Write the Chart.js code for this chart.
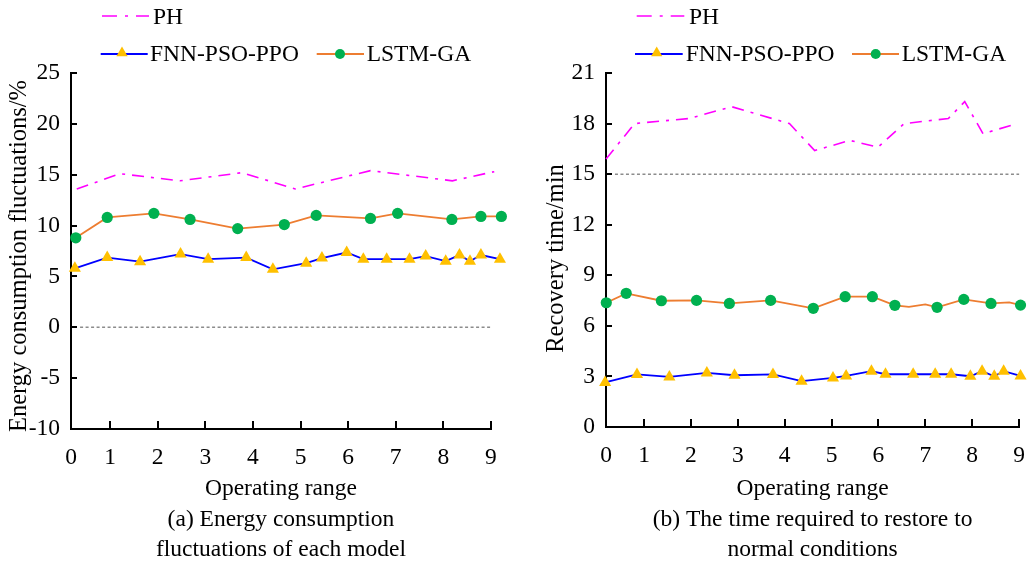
<!DOCTYPE html>
<html><head><meta charset="utf-8">
<script src="https://cdn.jsdelivr.net/npm/chart.js@4.4.1/dist/chart.umd.min.js"></script>
<style>
html,body{margin:0;padding:0;background:#fff;}
#wrap{position:relative;width:1032px;height:567px;overflow:hidden;background:#fff;}
canvas{position:absolute;top:0;}
#cA{left:0}
#cB{left:516px}
</style></head><body>
<div id="wrap"><canvas id="cA" width="516" height="567"></canvas><canvas id="cB" width="516" height="567"></canvas></div>
<script>
// ---------------- data ----------------
const xTickValues = [1, 2, 3, 4, 5, 6, 7, 8, 9];
const seriesNames = ['PH', 'FNN-PSO-PPO', 'LSTM-GA'];
const xTitle = 'Operating range';

// (a) Energy consumption fluctuations/%
const phA_x   = [0.30, 1.21, 2.47, 3.77, 4.89, 6.47, 8.19, 9.07];
const phA_y   = [13.6, 15.1, 14.4, 15.2, 13.6, 15.4, 14.4, 15.3];
const fnnA_x  = [0.26, 0.94, 1.63, 2.48, 3.06, 3.86, 4.42, 5.12, 5.45, 5.97, 6.32, 6.81, 7.29, 7.63, 8.05, 8.34, 8.56, 8.79, 9.19];
const fnnA_y  = [5.8, 6.85, 6.45, 7.2, 6.7, 6.85, 5.7, 6.3, 6.8, 7.35, 6.7, 6.7, 6.7, 7.0, 6.5, 7.1, 6.5, 7.1, 6.7];
const lstmA_x = [0.28, 0.94, 1.92, 2.68, 3.68, 4.66, 5.33, 6.47, 7.04, 8.18, 8.79, 9.22];
const lstmA_y = [8.8, 10.8, 11.2, 10.6, 9.7, 10.1, 11.0, 10.7, 11.2, 10.6, 10.9, 10.9];
const refA_x  = [0.37, 9];
const refA_y  = [0, 0];

// (b) Recovery time/min
const phB_x   = [0.19, 0.80, 1.96, 2.87, 4.10, 4.64, 5.39, 5.99, 6.55, 7.49, 7.84, 8.23, 8.96];
const phB_y   = [15.9, 18.0, 18.3, 19.0, 18.0, 16.4, 17.0, 16.6, 18.0, 18.3, 19.3, 17.4, 18.0];
const fnnB_x  = [0.17, 0.85, 1.54, 2.34, 2.93, 3.75, 4.36, 5.03, 5.31, 5.85, 6.15, 6.74, 7.21, 7.55, 7.96, 8.21, 8.47, 8.67, 9.03];
const fnnB_y  = [2.64, 3.12, 2.97, 3.21, 3.07, 3.12, 2.72, 2.91, 3.03, 3.31, 3.13, 3.13, 3.13, 3.13, 3.01, 3.31, 3.01, 3.31, 3.03];
const lstmB_x = [0.195, 0.62, 1.37, 2.12, 2.82, 3.70, 4.61, 5.29, 5.87, 6.35, 6.65, 7.00, 7.25, 7.82, 8.40, 8.79, 9.03];
const lstmB_y = [7.37, 7.93, 7.49, 7.51, 7.33, 7.51, 7.04, 7.73, 7.73, 7.22, 7.13, 7.27, 7.10, 7.57, 7.33, 7.39, 7.23];
const lstmB_marked = [1, 1, 1, 1, 1, 1, 1, 1, 1, 1, 0, 0, 1, 1, 1, 0, 1];
const refB_x  = [0.38, 9];
const refB_y  = [15, 15];

// ---------------- styles ----------------
const FONT = "'Liberation Serif', 'Times New Roman', serif";
const C_PH = '#FF00FF', C_FNN = '#0000FF', C_TRI = '#FFC000', C_LSTM = '#ED7D31', C_DOT = '#00B050', C_REF = '#8C8C8C';
const PH_DASH = [12, 7, 3, 7];
const TRI_R = 7, DOT_R = 5.6;

const pts = (xs, ys) => xs.map((x, i) => ({ x: x, y: ys[i] }));

const decor = {
  id: 'decor',
  beforeDatasetsDraw(chart) {
    const { ctx, chartArea: { left, bottom }, scales: { x } } = chart;
    ctx.save();
    ctx.strokeStyle = '#000'; ctx.lineWidth = 2; ctx.setLineDash([]);
    ctx.beginPath(); ctx.moveTo(left - 1, Math.round(bottom)); ctx.lineTo(Math.round(x.getPixelForValue(9)) + 1, Math.round(bottom)); ctx.stroke();
    ctx.restore();
  },
  afterDraw(chart, args, o) {
    const { ctx, chartArea: { left, bottom }, scales: { x, y } } = chart;
    ctx.save();
    ctx.strokeStyle = '#000'; ctx.lineWidth = 2; ctx.setLineDash([]);
    y.ticks.forEach(t => {
      const py = Math.round(y.getPixelForValue(t.value));
      ctx.beginPath(); ctx.moveTo(left, py); ctx.lineTo(left + 6, py); ctx.stroke();
    });
    x.ticks.forEach(t => {
      if (t.value < 0.5) return;
      const px = Math.round(x.getPixelForValue(t.value));
      ctx.beginPath(); ctx.moveTo(px, Math.round(bottom)); ctx.lineTo(px, Math.round(bottom) - 8); ctx.stroke();
    });
    // x title + caption (centred on the drawn axis)
    const cx = (left + x.getPixelForValue(9)) / 2;
    ctx.font = '23.5px ' + FONT; ctx.fillStyle = '#000'; ctx.textAlign = 'center'; ctx.textBaseline = 'alphabetic';
    [xTitle].concat(o.caption).forEach((s, i) => ctx.fillText(s, cx, 495 + i * 30.5));
    // legend
    const L = o.legend;
    ctx.textAlign = 'left';
    // PH
    ctx.strokeStyle = C_PH; ctx.lineWidth = 1.6; ctx.setLineDash([15, 8, 3, 8]);
    ctx.beginPath(); ctx.moveTo(L.ph[0], 16); ctx.lineTo(L.ph[1], 16); ctx.stroke();
    ctx.setLineDash([]);
    ctx.fillText(seriesNames[0], L.ph[2], 24);
    // FNN
    ctx.strokeStyle = C_FNN; ctx.lineWidth = 2;
    ctx.beginPath(); ctx.moveTo(L.fnn[0], 54); ctx.lineTo(L.fnn[1], 54); ctx.stroke();
    const tx = L.fnn[2], ty = 53, r = 6.5;
    ctx.fillStyle = C_TRI; ctx.beginPath();
    ctx.moveTo(tx, ty - r); ctx.lineTo(tx + r * 0.866, ty + r / 2); ctx.lineTo(tx - r * 0.866, ty + r / 2); ctx.closePath(); ctx.fill();
    ctx.fillStyle = '#000'; ctx.fillText(seriesNames[1], L.fnn[3], 61);
    // LSTM
    ctx.strokeStyle = C_LSTM; ctx.lineWidth = 2;
    ctx.beginPath(); ctx.moveTo(L.lstm[0], 54); ctx.lineTo(L.lstm[1], 54); ctx.stroke();
    ctx.fillStyle = C_DOT; ctx.beginPath(); ctx.arc(L.lstm[2], 54, 5, 0, Math.PI * 2); ctx.fill();
    ctx.fillStyle = '#000'; ctx.fillText(seriesNames[2], L.lstm[3], 61);
    // y title
    ctx.font = '24.5px ' + FONT;
    ctx.translate(o.yt[0], o.yt[1]); ctx.rotate(-Math.PI / 2);
    ctx.textAlign = 'center'; ctx.textBaseline = 'middle';
    ctx.fillText(o.yt[2], 0, 0);
    ctx.restore();
  }
};

function makeChart(id, d) {
  return new Chart(document.getElementById(id), {
    type: 'line',
    data: {
      datasets: [
        { label: seriesNames[1], data: pts(d.fnnX, d.fnnY), borderColor: C_FNN, borderWidth: 1.8,
          pointStyle: 'triangle', pointRadius: TRI_R, pointBackgroundColor: C_TRI, pointBorderColor: C_TRI, pointBorderWidth: 0, clip: false },
        { label: seriesNames[2], data: pts(d.lstmX, d.lstmY), borderColor: C_LSTM, borderWidth: 1.8,
          pointStyle: 'circle', pointRadius: d.lstmR, pointBackgroundColor: C_DOT, pointBorderColor: C_DOT, pointBorderWidth: 0, clip: false },
        { label: seriesNames[0], data: pts(d.phX, d.phY), borderColor: C_PH, borderWidth: 1.6, borderDash: PH_DASH,
          pointRadius: 0, clip: false },
        { label: 'ref', data: pts(d.refX, d.refY), borderColor: C_REF, borderWidth: 1.5, borderDash: [3, 2.5],
          pointRadius: 0, clip: false }
      ]
    },
    options: {
      responsive: false, animation: false, events: [],
      layout: { padding: { left: 0, top: 73, right: d.padR, bottom: 0 } },
      elements: { line: { tension: 0 } },
      plugins: { legend: { display: false }, tooltip: { enabled: false },
                 decor: { legend: d.legend, yt: d.yt, caption: d.caption } },
      scales: {
        x: {
          type: 'linear', bounds: 'data',
          afterDataLimits: s => { s.min = d.xMin; s.max = d.xMax; },
          afterBuildTicks: s => { s.ticks = [d.xMin].concat(xTickValues).map(v => ({ value: v })); },
          afterFit: s => { s.height = d.xH; },
          grid: { display: false },
          border: { display: false },
          ticks: { autoSkip: false, maxRotation: 0, padding: 7, color: '#000',
                   font: { family: FONT, size: 23.5 },
                   callback: v => (v < 0.5 ? '0' : String(v)) },
          title: { display: false }
        },
        y: {
          type: 'linear', min: d.yMin, max: d.yMax,
          afterFit: s => { s.width = d.yW; },
          grid: { display: false },
          border: { display: true, color: '#000', width: 2 },
          ticks: { stepSize: d.yStep, padding: 3, color: '#000', font: { family: FONT, size: 23.5 } },
          title: { display: false }
        }
      }
    },
    plugins: [decor]
  });
}

makeChart('cA', {
  fnnX: fnnA_x, fnnY: fnnA_y, lstmX: lstmA_x, lstmY: lstmA_y, lstmR: DOT_R,
  phX: phA_x, phY: phA_y, refX: refA_x, refY: refA_y,
  xMin: 0.179, xMax: 9.3, xH: 138, yW: 71, padR: 10.8, yMin: -10, yMax: 25, yStep: 5,
  caption: ['(a) Energy consumption', 'fluctuations of each model'],
  legend: { ph: [102, 149, 153], fnn: [100.7, 147.7, 122, 150], lstm: [316.7, 364, 340, 366.7] },
  yt: [20, 256, 'Energy consumption fluctuations/%']
});

makeChart('cB', {
  fnnX: fnnB_x, fnnY: fnnB_y, lstmX: lstmB_x, lstmY: lstmB_y, lstmR: lstmB_marked.map(m => m ? DOT_R : 0),
  phX: phB_x, phY: phB_y, refX: refB_x, refY: refB_y,
  xMin: 0.189, xMax: 9, xH: 140, yW: 90, padR: 7, yMin: 0, yMax: 21, yStep: 3,
  caption: ['(b) The time required to restore to', 'normal conditions'],
  legend: { ph: [120.7, 168.3, 173], fnn: [119, 166.7, 140.7, 169.7], lstm: [336, 383, 359.7, 385.7] },
  yt: [41, 258.5, 'Recovery time/min']
});
</script>
</body></html>
